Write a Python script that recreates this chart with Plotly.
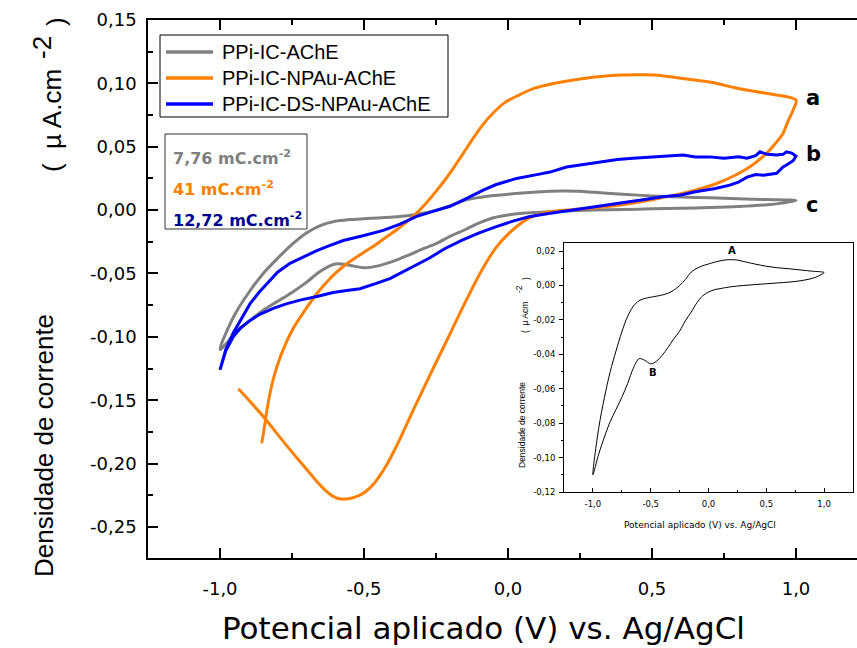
import plotly.graph_objects as go

# ---------------- data ----------------
series_names = ["PPi-IC-AChE", "PPi-IC-NPAu-AChE", "PPi-IC-DS-NPAu-AChE"]
series_colors = ["#808080", "#FF8000", "#0000FF"]
charge_labels = ["7,76 mC.cm<sup>-2</sup>", "41 mC.cm<sup>-2</sup>", "12,72 mC.cm<sup>-2</sup>"]
charge_colors = ["#808080", "#FF8000", "#000090"]
curve_letters = ["c", "a", "b"]  # per series: gray, orange, blue

# PPi-IC-AChE (forward scan then reverse scan)
gray_e = [-1.00, -0.95, -0.90, -0.85, -0.80, -0.75, -0.70, -0.65, -0.60, -0.55,
          -0.50, -0.45, -0.40, -0.35, -0.30, -0.25, -0.20, -0.15, -0.10, -0.05,
          0.00, 0.05, 0.10, 0.15, 0.20, 0.25, 0.30, 0.40, 0.50, 0.60,
          0.70, 0.80, 0.90, 1.00,
          0.95, 0.90, 0.80, 0.70, 0.60, 0.50, 0.40, 0.30, 0.20, 0.10,
          0.05, 0.00, -0.05, -0.10, -0.15, -0.20, -0.25, -0.30, -0.35, -0.40,
          -0.45, -0.50, -0.55, -0.60, -0.65, -0.70, -0.75, -0.80, -0.85, -0.90,
          -0.95, -1.00]
gray_j = [-0.110, -0.083, -0.065, -0.050, -0.038, -0.027, -0.018, -0.012, -0.0088, -0.0075,
          -0.0068, -0.0062, -0.0055, -0.0045, -0.0027, 0.0000, 0.0035, 0.0078, 0.0100, 0.0115,
          0.0125, 0.0135, 0.0143, 0.0149, 0.0150, 0.0148, 0.0140, 0.0125, 0.0112, 0.0103,
          0.0097, 0.0090, 0.0083, 0.0075,
          0.0055, 0.0042, 0.0028, 0.0020, 0.0015, 0.0010, 0.0005, 0.0000, -0.0007, -0.0018,
          -0.0025, -0.0038, -0.0060, -0.0100, -0.0155, -0.0205, -0.0265, -0.0310, -0.0360, -0.0405,
          -0.0440, -0.0455, -0.0435, -0.0425, -0.0480, -0.0570, -0.0650, -0.0720, -0.0790, -0.0880,
          -0.0980, -0.1100]

# PPi-IC-NPAu-AChE
orange_e = [-0.855, -0.845, -0.835, -0.820, -0.803, -0.775, -0.745, -0.705, -0.664, -0.640,
            -0.620, -0.600, -0.572, -0.545, -0.520, -0.470, -0.421, -0.375, -0.329, -0.290,
            -0.260, -0.225, -0.190, -0.155, -0.120, -0.085, -0.050, -0.010, 0.040, 0.090,
            0.150, 0.250, 0.350, 0.450, 0.520, 0.600, 0.700, 0.800, 0.900, 1.000,
            0.990, 0.970, 0.955, 0.930, 0.897, 0.860, 0.828, 0.780, 0.724, 0.650,
            0.597, 0.500, 0.420, 0.330, 0.247, 0.180, 0.131, 0.080, 0.038, 0.000,
            -0.043, -0.090, -0.147, -0.200, -0.260, -0.320, -0.375, -0.400, -0.420, -0.445,
            -0.468, -0.495, -0.520, -0.545, -0.572, -0.590, -0.610, -0.630, -0.650, -0.670,
            -0.690, -0.720, -0.757, -0.800, -0.838, -0.880, -0.936]
orange_j = [-0.184, -0.170, -0.155, -0.138, -0.124, -0.107, -0.093, -0.079, -0.066, -0.0595,
            -0.0545, -0.050, -0.0445, -0.040, -0.0362, -0.029, -0.021, -0.0135, -0.005, 0.004,
            0.012, 0.022, 0.033, 0.045, 0.057, 0.068, 0.077, 0.085, 0.091, 0.096,
            0.0995, 0.1035, 0.106, 0.1068, 0.1065, 0.104, 0.101, 0.096, 0.092, 0.0868,
            0.079, 0.069, 0.0605, 0.053, 0.0447, 0.0375, 0.0325, 0.0265, 0.021, 0.0158,
            0.0128, 0.0082, 0.005, 0.0024, 0.0008, -0.0003, -0.0018, -0.0055, -0.0115, -0.019,
            -0.030, -0.047, -0.072, -0.097, -0.125, -0.1535, -0.1805, -0.192, -0.2005, -0.2095,
            -0.2165, -0.2222, -0.2255, -0.2273, -0.228, -0.2275, -0.2255, -0.222, -0.2175, -0.2125,
            -0.207, -0.199, -0.189, -0.177, -0.166, -0.155, -0.141]

# PPi-IC-DS-NPAu-AChE
blue_e = [-1.000, -0.980, -0.954, -0.925, -0.896, -0.865, -0.838, -0.800, -0.757, -0.722,
          -0.664, -0.620, -0.572, -0.500, -0.433, -0.375, -0.317, -0.260, -0.201, -0.145,
          -0.086, -0.043, 0.030, 0.100, 0.146, 0.203, 0.260, 0.319, 0.380, 0.434,
          0.500, 0.560, 0.608, 0.651, 0.700, 0.750, 0.800, 0.830, 0.860, 0.875,
          0.900, 0.933, 0.955, 0.967, 0.985, 1.000,
          0.990, 0.970, 0.955, 0.933, 0.910, 0.887, 0.860, 0.830, 0.800, 0.770,
          0.720, 0.651, 0.600, 0.536, 0.480, 0.420, 0.360, 0.304, 0.250, 0.188,
          0.130, 0.073, 0.020, -0.043, -0.100, -0.159, -0.220, -0.274, -0.317, -0.360,
          -0.410, -0.460, -0.514, -0.560, -0.607, -0.660, -0.722, -0.770, -0.815, -0.860,
          -0.896, -0.930, -0.954, -0.980, -1.000]
blue_j = [-0.126, -0.110, -0.097, -0.085, -0.074, -0.065, -0.058, -0.049, -0.042, -0.038,
          -0.032, -0.028, -0.024, -0.020, -0.016, -0.011, -0.005, -0.001, 0.003, 0.009,
          0.0158, 0.020, 0.025, 0.028, 0.030, 0.034, 0.036, 0.038, 0.040, 0.041,
          0.042, 0.043, 0.0434, 0.042, 0.042, 0.041, 0.042, 0.041, 0.043, 0.046,
          0.044, 0.0434, 0.044, 0.046, 0.045, 0.0426,
          0.039, 0.036, 0.034, 0.029, 0.028, 0.0276, 0.028, 0.026, 0.022, 0.0197,
          0.017, 0.0145, 0.012, 0.0105, 0.0085, 0.0066, 0.0045, 0.0026, 0.0008, -0.0013,
          -0.003, -0.0053, -0.0085, -0.0132, -0.018, -0.0237, -0.0305, -0.038, -0.043, -0.048,
          -0.054, -0.058, -0.062, -0.0635, -0.065, -0.068, -0.071, -0.074, -0.0776, -0.082,
          -0.087, -0.093, -0.100, -0.111, -0.126]

# axis ticks
main_x_ticks = [-1.0, -0.5, 0.0, 0.5, 1.0]
main_x_text = ["-1,0", "-0,5", "0,0", "0,5", "1,0"]
main_y_ticks = [0.15, 0.10, 0.05, 0.00, -0.05, -0.10, -0.15, -0.20, -0.25]
main_y_text = ["0,15", "0,10", "0,05", "0,00", "-0,05", "-0,10", "-0,15", "-0,20", "-0,25"]
inset_x_ticks = [-1.0, -0.5, 0.0, 0.5, 1.0]
inset_x_text = ["-1,0", "-0,5", "0,0", "0,5", "1,0"]
inset_y_ticks = [0.02, 0.00, -0.02, -0.04, -0.06, -0.08, -0.10, -0.12]
inset_y_text = ["0,02", "0,00", "-0,02", "-0,04", "-0,06", "-0,08", "-0,10", "-0,12"]

# ---------------- layout geometry (pixels) ----------------
W, H = 857, 648
L, R, T, B = 148, 857, 20, 558


def px(x):
    return (x - L) / (R - L)


def py(y):
    return (B - y) / (B - T)


DV = "DejaVu Sans"
LS = "Liberation Sans"

fig = go.Figure()

data = [(gray_e, gray_j), (orange_e, orange_j), (blue_e, blue_j)]
for (e, j), name, col in zip(data, series_names, series_colors):
    fig.add_trace(go.Scatter(
        x=e, y=j, name=name, mode="lines", showlegend=False,
        line=dict(color=col, width=3,
                  shape="linear" if col == "#0000FF" else "spline", smoothing=0.9),
        xaxis="x", yaxis="y"))

# inset: the PPi-IC-AChE voltammogram on its own scale
fig.add_trace(go.Scatter(
    x=gray_e, y=gray_j, mode="lines", showlegend=False,
    line=dict(color="black", width=1, shape="spline", smoothing=0.9),
    xaxis="x2", yaxis="y2"))

shapes = []
annotations = []

# legend box
shapes.append(dict(type="rect", xref="paper", yref="paper",
                   x0=px(160), x1=px(448), y0=py(117), y1=py(35),
                   line=dict(color="black", width=1), fillcolor="white", layer="above"))
for i, (name, col) in enumerate(zip(series_names, series_colors)):
    yy = [52, 78, 104][i]
    shapes.append(dict(type="line", xref="paper", yref="paper",
                       x0=px(166), x1=px(213), y0=py(yy), y1=py(yy),
                       line=dict(color=col, width=3.5), layer="above"))
    annotations.append(dict(text=name, xref="paper", yref="paper",
                            x=px(220), y=py(yy), xanchor="left", yanchor="middle",
                            showarrow=False, font=dict(family=LS, size=20, color="black")))

# charge box
shapes.append(dict(type="rect", xref="paper", yref="paper",
                   x0=px(165), x1=px(307), y0=py(229), y1=py(134),
                   line=dict(color="#333333", width=1), fillcolor="white", layer="above"))
for i, (lab, col) in enumerate(zip(charge_labels, charge_colors)):
    yy = [157, 188, 219][i]
    annotations.append(dict(text="<b>" + lab + "</b>", xref="paper", yref="paper",
                            x=px(171), y=py(yy), xanchor="left", yanchor="middle",
                            showarrow=False, font=dict(family=DV, size=16, color=col)))

# curve letters at the switching potential
for (e, j), letter in zip(data, curve_letters):
    k = e.index(max(e))
    annotations.append(dict(text="<b>" + letter + "</b>", x=e[k], y=j[k], xref="x", yref="y",
                            xanchor="left", yanchor="middle", xshift=8,
                            yshift=-4 if letter == "c" else 2,
                            showarrow=False, font=dict(family=DV, size=21, color="black")))


def vtext(text, x, y, size):
    return dict(text=text, xref="paper", yref="paper", x=px(x), y=py(y),
                textangle=-90, showarrow=False, xanchor="center", yanchor="middle",
                font=dict(family=LS, size=size, color="black"))


# main axis titles
annotations += [
    vtext("Densidade de corrente", 44, 446, 26),
    vtext("(  µ A.cm", 52, 120, 26),
    vtext("-2", 42, 48, 26),
    vtext(")", 56, 22, 26),
    dict(text="Potencial aplicado (V) vs. Ag/AgCl", xref="paper", yref="paper",
         x=px(483), y=py(628), showarrow=False, xanchor="center", yanchor="middle",
         font=dict(family=DV, size=31, color="black")),
]

# inset titles and peak labels
annotations += [
    dict(text="Potencial aplicado (V) vs. Ag/AgCl", xref="paper", yref="paper",
         x=px(700), y=py(525), showarrow=False, xanchor="center", yanchor="middle",
         font=dict(family=DV, size=9, color="black")),
    vtext("Densidade de corrente", 522, 425, 8.5),
    vtext("(  µ Acm", 525, 318, 8.5),
    vtext("-2", 519, 289, 8.5),
    vtext(")", 526, 279, 8.5),
    dict(text="<b>A</b>", x=0.20, y=0.0150, xref="x2", yref="y2", yshift=9,
         showarrow=False, font=dict(family=DV, size=10, color="black")),
    dict(text="<b>B</b>", x=-0.48, y=-0.0455, xref="x2", yref="y2", yshift=-9,
         showarrow=False, font=dict(family=DV, size=10, color="black")),
]

axis_common = dict(showgrid=False, zeroline=False, showline=True, linecolor="black")

x_range_right = -1.25 + (R - L) / 288.0

fig.update_layout(
    width=W, height=H,
    margin=dict(l=L, r=W - R, t=T, b=H - B, pad=0),
    paper_bgcolor="white", plot_bgcolor="white",
    showlegend=False,
    xaxis=dict(**axis_common, domain=[0, 1], range=[-1.25, x_range_right],
               linewidth=1.5, mirror="ticks", ticks="inside", ticklen=10, tickwidth=1.5,
               tickcolor="black", tickvals=main_x_ticks, ticktext=main_x_text,
               ticklabelstandoff=14,
               minor=dict(ticks="inside", ticklen=5, tickwidth=1.5, tickcolor="black",
                          dtick=0.25, tick0=0),
               tickfont=dict(family=DV, size=18, color="black")),
    yaxis=dict(**axis_common, domain=[0, 1], range=[-0.2745, 0.15],
               linewidth=1.5, mirror=False, ticks="inside", ticklen=10, tickwidth=1.5,
               tickcolor="black", tickvals=main_y_ticks, ticktext=main_y_text,
               ticklabelstandoff=6,
               minor=dict(ticks="inside", ticklen=5, tickwidth=1.5, tickcolor="black",
                          dtick=0.025, tick0=0),
               tickfont=dict(family=DV, size=18, color="black")),
    xaxis2=dict(**axis_common, domain=[px(564), px(853)], anchor="y2", range=[-1.25, 1.25],
                linewidth=1, mirror=True, ticks="inside", ticklen=4, tickwidth=1,
                tickcolor="black", tickvals=inset_x_ticks, ticktext=inset_x_text,
                ticklabelstandoff=4,
                minor=dict(ticks="inside", ticklen=2.5, tickwidth=1, tickcolor="black",
                           dtick=0.25, tick0=0),
                tickfont=dict(family=DV, size=8.5, color="black")),
    yaxis2=dict(**axis_common, domain=[py(492), py(243)], anchor="x2", range=[-0.12, 0.0247],
                linewidth=1, mirror=True, ticks="outside", ticklen=4, tickwidth=1,
                tickcolor="black", tickvals=inset_y_ticks, ticktext=inset_y_text,
                ticklabelstandoff=2,
                minor=dict(ticks="outside", ticklen=2.5, tickwidth=1, tickcolor="black",
                           dtick=0.01, tick0=0),
                tickfont=dict(family=DV, size=8.5, color="black")),
    shapes=shapes,
    annotations=annotations,
)

fig.write_html("out.html")
